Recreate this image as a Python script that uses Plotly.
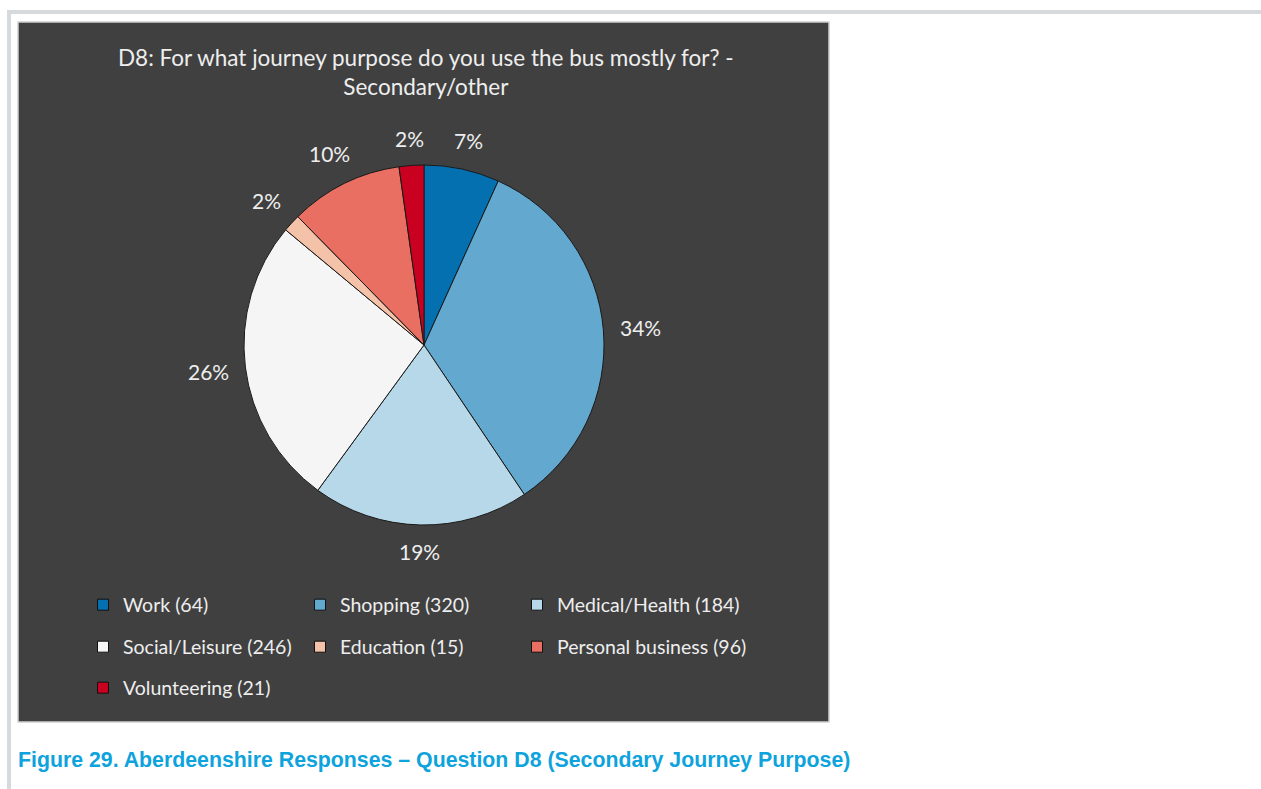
import math
import plotly.graph_objects as go

# Survey responses, question D8 (secondary journey purpose)
categories = ["Work", "Shopping", "Medical/Health", "Social/Leisure",
              "Education", "Personal business", "Volunteering"]
counts = [64, 320, 184, 246, 15, 96, 21]
colors = ["#0570b0", "#62a8cf", "#b6d8e8", "#f5f5f5",
          "#f4c2a8", "#e86f61", "#ca0020"]

title_text = ("D8: For what journey purpose do you use the bus mostly for? -"
              "<br>Secondary/other")
caption_text = ("Figure 29. Aberdeenshire Responses \u2013 Question D8 "
                "(Secondary Journey Purpose)")

W, H = 1261, 789
FONT = "Lato, 'Open Sans', sans-serif"
TEXT_COL = "#eeeeee"
BG = "#404040"

# pie placement (pixels)
PIE_CX, PIE_CY, PIE_R = 424, 345, 180
LABEL_GAP = 17
LABEL_SIZE = 21

# legend grid (pixels): left edge of each column, centre of each row
LEGEND_COLS = [83, 300, 517]
LEGEND_ROWS = [605, 647, 688]


def px(x):
    return x / W


def py(y):
    return 1 - y / H


fig = go.Figure()

fig.add_trace(go.Pie(
    labels=categories,
    values=counts,
    sort=False,
    direction="clockwise",
    rotation=0,
    marker=dict(colors=colors, line=dict(color="#1a1a1a", width=1)),
    textinfo="none",
    hoverinfo="label+value+percent",
    showlegend=False,
    domain=dict(x=[px(PIE_CX - PIE_R), px(PIE_CX + PIE_R)],
                y=[py(PIE_CY + PIE_R), py(PIE_CY - PIE_R)]),
))

# Percentage labels just outside each slice, at the slice's mid angle
total = sum(counts)
annotations = []
cum = 0
for n in counts:
    mid = (cum + n / 2) / total * 2 * math.pi
    cum += n
    pct = f"{round(100 * n / total)}%"
    ux, uy = math.sin(mid), math.cos(mid)
    w = LABEL_SIZE * (0.55 * (len(pct) - 1) + 0.74)
    h = LABEL_SIZE * 0.9
    d = PIE_R + LABEL_GAP + abs(ux) * w / 2 + abs(uy) * h / 2
    annotations.append(dict(
        text=pct, xref="paper", yref="paper",
        x=px(PIE_CX + ux * d), y=py(PIE_CY - uy * d),
        xanchor="center", yanchor="middle", showarrow=False,
        font=dict(family=FONT, size=LABEL_SIZE, color=TEXT_COL)))

# Legend: one entry per legend box, laid out on a 3-column grid
legend_layout = {}
for i, (cat, n, col) in enumerate(zip(categories, counts, colors)):
    key = "legend" if i == 0 else f"legend{i + 1}"
    fig.add_trace(go.Scatter(
        x=[None], y=[None], mode="markers",
        name=f"{cat} ({n})",
        marker=dict(symbol="square", size=11, color=col,
                    line=dict(color="#111111", width=1)),
        legend=key,
        showlegend=True,
        hoverinfo="skip",
    ))
    legend_layout[key] = dict(
        orientation="h",
        xanchor="left",
        yanchor="middle",
        x=px(LEGEND_COLS[i % 3]),
        y=py(LEGEND_ROWS[i // 3]),
        bgcolor="rgba(0,0,0,0)",
        font=dict(family=FONT, size=19.5, color=TEXT_COL),
        itemclick=False,
        itemdoubleclick=False,
    )

shapes = [
    # page rules
    dict(type="rect", xref="paper", yref="paper",
         x0=px(7), x1=px(W), y0=py(10), y1=py(14),
         fillcolor="#d7dadd", line=dict(width=0), layer="below"),
    dict(type="rect", xref="paper", yref="paper",
         x0=px(7), x1=px(11), y0=py(H), y1=py(10),
         fillcolor="#d7dadd", line=dict(width=0), layer="below"),
    # chart panel
    dict(type="rect", xref="paper", yref="paper",
         x0=px(18), x1=px(829), y0=py(722), y1=py(22),
         fillcolor=BG, line=dict(color="#d0d0d0", width=1.5), layer="below"),
]

annotations += [
    dict(text=title_text, xref="paper", yref="paper",
         x=px(426), y=py(72), xanchor="center", yanchor="middle",
         showarrow=False, align="center",
         font=dict(family=FONT, size=22.5, color=TEXT_COL)),
    dict(text=f"<b>{caption_text}</b>", xref="paper", yref="paper",
         x=px(16), y=py(760), xanchor="left", yanchor="middle",
         showarrow=False,
         font=dict(family="'Liberation Sans', Arial, sans-serif",
                   size=21.3, color="#0ea3dc")),
]

fig.update_layout(
    width=W, height=H,
    margin=dict(l=0, r=0, t=0, b=0),
    paper_bgcolor="white",
    plot_bgcolor="white",
    xaxis=dict(visible=False),
    yaxis=dict(visible=False),
    shapes=shapes,
    annotations=annotations,
    **legend_layout,
)

fig.write_html("out.html")
